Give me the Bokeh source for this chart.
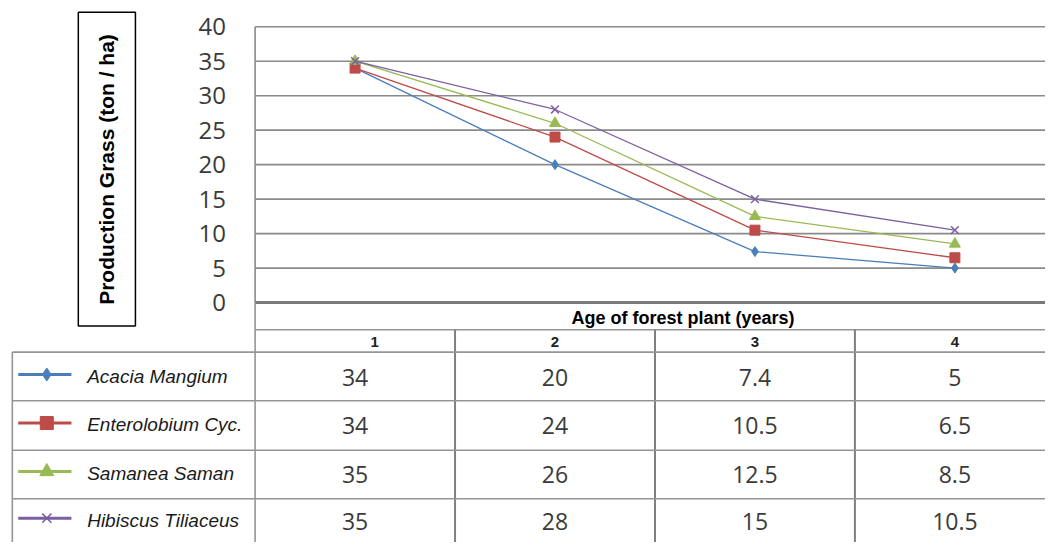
import math
from bokeh.plotting import figure
from bokeh.models import Range1d
from bokeh.core.properties import value
from bokeh.embed import file_html
from bokeh.resources import INLINE

# ---------------- data ----------------
ages = [1, 2, 3, 4]
age_labels = ["1", "2", "3", "4"]
series_names = ["Acacia Mangium", "Enterolobium Cyc.", "Samanea Saman", "Hibiscus Tiliaceus"]
acacia = [34, 20, 7.4, 5]
enterolobium = [34, 24, 10.5, 6.5]
samanea = [35, 26, 12.5, 8.5]
hibiscus = [35, 28, 15, 10.5]
value_labels = [["34", "20", "7.4", "5"],
                ["34", "24", "10.5", "6.5"],
                ["35", "26", "12.5", "8.5"],
                ["35", "28", "15", "10.5"]]
y_ticks = [0, 5, 10, 15, 20, 25, 30, 35, 40]
y_title = "Production Grass (ton / ha)"
x_title = "Age of forest plant (years)"

series_values = [acacia, enterolobium, samanea, hibiscus]
colors = ["#4A7EBB", "#BE4B48", "#98B954", "#7D5FA0"]
markers = ["diamond", "square", "triangle", "x"]
msizes = [10, 10, 11, 11]

# ---------------- geometry ----------------
W, H = 1045, 542          # canvas; the reference layout (1061x558) is mapped onto it
REF_W, REF_H = 1061.0, 558.0
KX = 203.0                # ref px per category
X1PX = 360.0              # ref x of category 1
KY = 284.0 / 40.0         # ref px per unit
Y0PX = 311.0              # ref y of value 0


def ux(px):
    return 1 + (px - X1PX) / KX


def uy(py):
    return (Y0PX - py) / KY


p = figure(width=W, height=H, output_backend="svg", toolbar_location=None,
           x_range=Range1d(ux(0), ux(REF_W)), y_range=Range1d(uy(REF_H), uy(0)),
           min_border=0, x_axis_type=None, y_axis_type=None)
p.outline_line_color = None
p.grid.visible = False
p.background_fill_color = "white"
p.border_fill_color = "white"

GRID = "#8a8a8a"
TBL = "#959595"
RIGHT = ux(REF_W + 5)
PLOT_L = 0.5

# grid lines (5..40)
gy = [t for t in y_ticks if t > 0]
p.segment(x0=[PLOT_L] * len(gy), x1=[RIGHT] * len(gy), y0=gy, y1=gy,
          line_color=GRID, line_width=1.6)
# plot left border
p.segment(x0=[PLOT_L], x1=[PLOT_L], y0=[0], y1=[max(y_ticks)], line_color=GRID, line_width=1.6)
# axis line at 0 (heavy)
p.segment(x0=[PLOT_L], x1=[RIGHT], y0=[0], y1=[0], line_color="#7a7a7a", line_width=3)

# y tick labels
p.text(x=[ux(229)] * len(y_ticks), y=y_ticks, text=[str(t) for t in y_ticks],
       text_align="right", text_baseline="middle", text_font=value("Open Sans"),
       text_font_size="24px", text_color="#3a3a3a")

# y title box
p.quad(left=[ux(79)], right=[ux(137)], top=[uy(12)], bottom=[uy(335)],
       fill_color=None, line_color="black", line_width=1.5)
p.text(x=[ux(108)], y=[uy(174)], text=[y_title], angle=math.pi / 2,
       text_align="center", text_baseline="middle",
       text_font=value("Liberation Sans"), text_font_style="bold",
       text_font_size="21px", text_color="black")

# series lines + markers
for vals, c, mk, ms in zip(series_values, colors, markers, msizes):
    p.line(ages, vals, line_color=c, line_width=1.3)
    if mk == "x":
        p.scatter(ages, vals, marker=mk, size=ms, line_color=c, line_width=1.5)
    else:
        p.scatter(ages, vals, marker=mk, size=ms, fill_color=c, line_color=c)

# ---------------- data table ----------------
BOTTOM = uy(REF_H + 5)
# header row
p.segment(x0=[PLOT_L], x1=[RIGHT], y0=[uy(339)], y1=[uy(339)], line_color=TBL, line_width=1.6)
p.text(x=[ux(693)], y=[uy(327)], text=[x_title], text_align="center", text_baseline="middle",
       text_font=value("Liberation Sans"), text_font_style="bold",
       text_font_size="18px", text_color="black")
# table left edge
p.segment(x0=[PLOT_L], x1=[PLOT_L], y0=[0], y1=[BOTTOM], line_color=TBL, line_width=1.6)
# category dividers
divs = [a + 0.5 for a in ages[:-1]]
p.segment(x0=divs, x1=divs, y0=[uy(339)] * len(divs), y1=[BOTTOM] * len(divs),
          line_color="#7f7f7f", line_width=2)
# category labels
cat_x = [ux(380)] + ages[1:]
p.text(x=cat_x, y=[uy(352)] * len(ages), text=age_labels, text_align="center",
       text_baseline="middle", text_font=value("Liberation Sans"), text_font_style="bold",
       text_font_size="15px", text_color="#222222")

# row lines
row_tops = [362, 412, 463, 513]
row_centers = [388, 438, 488, 536]
p.segment(x0=[ux(12)] * len(row_tops), x1=[RIGHT] * len(row_tops),
          y0=[uy(r) for r in row_tops], y1=[uy(r) for r in row_tops],
          line_color=TBL, line_width=1.6)
# legend column left edge
p.segment(x0=[ux(12)], x1=[ux(12)], y0=[uy(362)], y1=[BOTTOM], line_color=TBL, line_width=1.6)

# legend keys + names + values
for i, (name, c, mk, ms) in enumerate(zip(series_names, colors, markers, msizes)):
    yc = uy(row_centers[i] - 3)
    p.line([ux(18), ux(72)], [yc, yc], line_color=c, line_width=3)
    if mk == "x":
        p.scatter([ux(47)], [yc], marker=mk, size=ms + 2, line_color=c, line_width=1.5)
    else:
        p.scatter([ux(47)], [yc], marker=mk, size=ms + 3, fill_color=c, line_color=c)
    p.text(x=[ux(88)], y=[uy(row_centers[i] - 1)], text=[name], text_align="left",
           text_baseline="middle", text_font=value("Liberation Sans"),
           text_font_style="italic", text_font_size="19px", text_color="#1a1a1a")
    p.text(x=ages, y=[uy(row_centers[i])] * len(ages), text=value_labels[i],
           text_align="center", text_baseline="middle", text_font=value("Open Sans"),
           text_font_size="23px", text_color="#3a3a3a")

open("out.html", "w").write(file_html(p, INLINE))
